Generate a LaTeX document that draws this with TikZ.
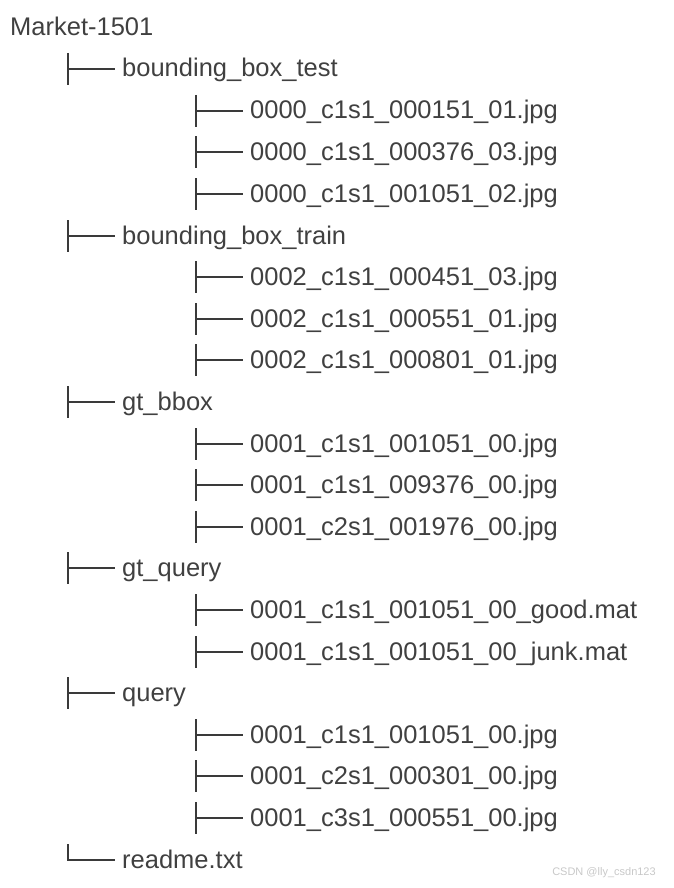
\documentclass[tikz,border=0pt]{standalone}
\usepackage{fontspec}
\setmainfont{Liberation Sans}
\definecolor{treetext}{RGB}{64,64,64}
\definecolor{treeline}{RGB}{58,58,58}
\definecolor{mark}{RGB}{200,200,200}
\usetikzlibrary{positioning}

\tikzset{
  entry/.style={anchor=base west, inner sep=0pt, text=treetext, font=\fontsize{25.5}{30}\selectfont},
  branch/.style={draw=treeline, line width=2pt},
}

\begin{document}
\begin{tikzpicture}[x=1pt,y=-1pt]
    \useasboundingbox (0,0) rectangle (673,888);
    \node[entry] (root) at (10,36) {Market-1501};

    % folders and readme
    \foreach \name/\row/\txt in {bbtest/1/bounding\_box\_test, bbtrain/5/bounding\_box\_train,
        gtbbox/9/gt\_bbox, gtquery/13/gt\_query, query/16/query, readme/20/readme.txt}
        \node[entry] (\name) at (122,{round(27.5+41.6*\row)+8}) {\txt};

    % files
    \foreach \name/\row/\txt in {
        testa/2/0000\_c1s1\_000151\_01.jpg, testb/3/0000\_c1s1\_000376\_03.jpg, testc/4/0000\_c1s1\_001051\_02.jpg,
        traina/6/0002\_c1s1\_000451\_03.jpg, trainb/7/0002\_c1s1\_000551\_01.jpg, trainc/8/0002\_c1s1\_000801\_01.jpg,
        bboxa/10/0001\_c1s1\_001051\_00.jpg, bboxb/11/0001\_c1s1\_009376\_00.jpg, bboxc/12/0001\_c2s1\_001976\_00.jpg,
        gooda/14/0001\_c1s1\_001051\_00\_good.mat, junka/15/0001\_c1s1\_001051\_00\_junk.mat,
        querya/17/0001\_c1s1\_001051\_00.jpg, queryb/18/0001\_c2s1\_000301\_00.jpg, queryc/19/0001\_c3s1\_000551\_00.jpg}
        \node[entry] (\name) at (250,{round(27.5+41.6*\row)+8}) {\txt};

    % tree branches
    \foreach \name in {bbtest,bbtrain,gtbbox,gtquery,query,
        testa,testb,testc,traina,trainb,trainc,bboxa,bboxb,bboxc,gooda,junka,querya,queryb,queryc}
        \draw[branch] ([shift={(-54pt,24pt)}]\name.base west) -- ++(0pt,-32pt)
            ++(0pt,16pt) -- ([shift={(-7pt,8pt)}]\name.base west);
    \draw[branch] ([shift={(-54pt,24pt)}]readme.base west) |- ([shift={(-7pt,8pt)}]readme.base west);

    \node[text=mark, font=\fontsize{11}{13}\selectfont] (credit) at (604,873) {CSDN @lly\_csdn123};
\end{tikzpicture}
\end{document}
